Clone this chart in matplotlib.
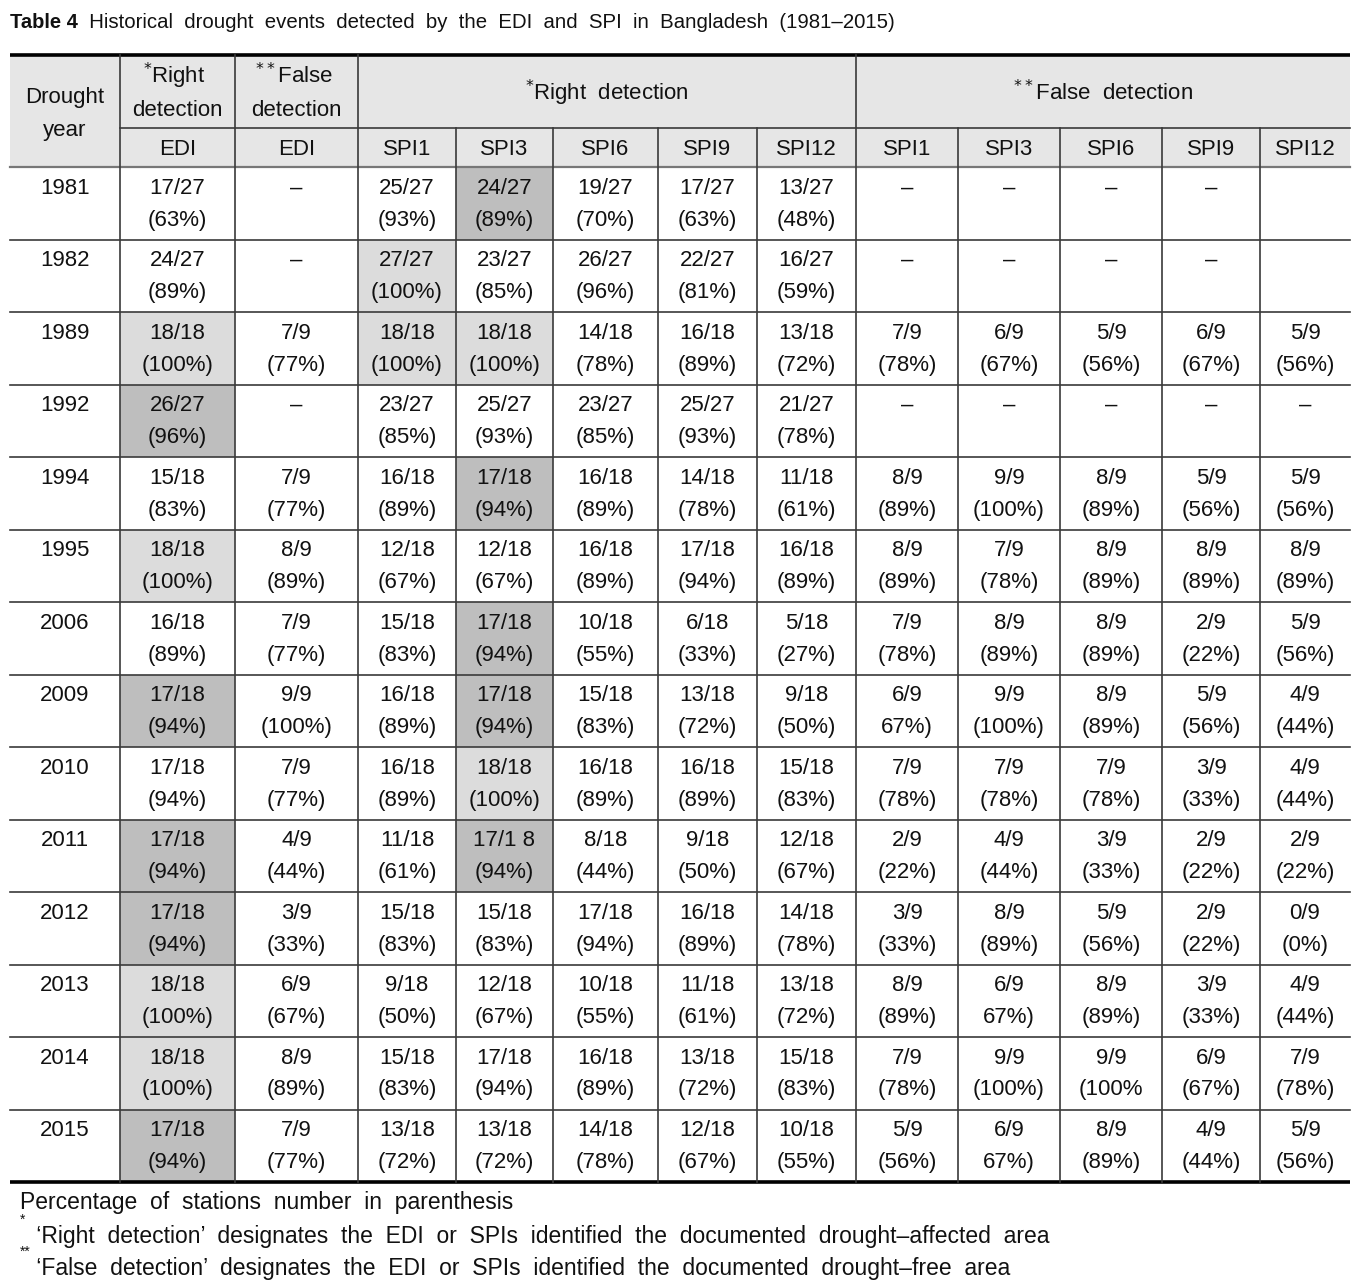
import matplotlib
matplotlib.use("Agg")
import matplotlib.pyplot as plt
from matplotlib.patches import Rectangle

plt.rcParams['font.family'] = ['Liberation Sans', 'DejaVu Sans']

# ---------------- data ----------------
title_bold = "Table 4"
title_rest = "  Historical  drought  events  detected  by  the  EDI  and  SPI  in  Bangladesh  (1981\u20132015)"

years = ["1981", "1982", "1989", "1992", "1994", "1995", "2006",
         "2009", "2010", "2011", "2012", "2013", "2014", "2015"]

sub_headers = ["EDI", "EDI", "SPI1", "SPI3", "SPI6", "SPI9", "SPI12",
               "SPI1", "SPI3", "SPI6", "SPI9", "SPI12"]

D = "\u2013"
edi_right = ["17/27\n(63%)", "24/27\n(89%)", "18/18\n(100%)", "26/27\n(96%)", "15/18\n(83%)",
             "18/18\n(100%)", "16/18\n(89%)", "17/18\n(94%)", "17/18\n(94%)", "17/18\n(94%)",
             "17/18\n(94%)", "18/18\n(100%)", "18/18\n(100%)", "17/18\n(94%)"]
edi_false = [D, D, "7/9\n(77%)", D, "7/9\n(77%)", "8/9\n(89%)", "7/9\n(77%)", "9/9\n(100%)",
             "7/9\n(77%)", "4/9\n(44%)", "3/9\n(33%)", "6/9\n(67%)", "8/9\n(89%)", "7/9\n(77%)"]
spi1_right = ["25/27\n(93%)", "27/27\n(100%)", "18/18\n(100%)", "23/27\n(85%)", "16/18\n(89%)",
              "12/18\n(67%)", "15/18\n(83%)", "16/18\n(89%)", "16/18\n(89%)", "11/18\n(61%)",
              "15/18\n(83%)", "9/18\n(50%)", "15/18\n(83%)", "13/18\n(72%)"]
spi3_right = ["24/27\n(89%)", "23/27\n(85%)", "18/18\n(100%)", "25/27\n(93%)", "17/18\n(94%)",
              "12/18\n(67%)", "17/18\n(94%)", "17/18\n(94%)", "18/18\n(100%)", "17/1 8\n(94%)",
              "15/18\n(83%)", "12/18\n(67%)", "17/18\n(94%)", "13/18\n(72%)"]
spi6_right = ["19/27\n(70%)", "26/27\n(96%)", "14/18\n(78%)", "23/27\n(85%)", "16/18\n(89%)",
              "16/18\n(89%)", "10/18\n(55%)", "15/18\n(83%)", "16/18\n(89%)", "8/18\n(44%)",
              "17/18\n(94%)", "10/18\n(55%)", "16/18\n(89%)", "14/18\n(78%)"]
spi9_right = ["17/27\n(63%)", "22/27\n(81%)", "16/18\n(89%)", "25/27\n(93%)", "14/18\n(78%)",
              "17/18\n(94%)", "6/18\n(33%)", "13/18\n(72%)", "16/18\n(89%)", "9/18\n(50%)",
              "16/18\n(89%)", "11/18\n(61%)", "13/18\n(72%)", "12/18\n(67%)"]
spi12_right = ["13/27\n(48%)", "16/27\n(59%)", "13/18\n(72%)", "21/27\n(78%)", "11/18\n(61%)",
               "16/18\n(89%)", "5/18\n(27%)", "9/18\n(50%)", "15/18\n(83%)", "12/18\n(67%)",
               "14/18\n(78%)", "13/18\n(72%)", "15/18\n(83%)", "10/18\n(55%)"]
spi1_false = [D, D, "7/9\n(78%)", D, "8/9\n(89%)", "8/9\n(89%)", "7/9\n(78%)", "6/9\n67%)",
              "7/9\n(78%)", "2/9\n(22%)", "3/9\n(33%)", "8/9\n(89%)", "7/9\n(78%)", "5/9\n(56%)"]
spi3_false = [D, D, "6/9\n(67%)", D, "9/9\n(100%)", "7/9\n(78%)", "8/9\n(89%)", "9/9\n(100%)",
              "7/9\n(78%)", "4/9\n(44%)", "8/9\n(89%)", "6/9\n67%)", "9/9\n(100%)", "6/9\n67%)"]
spi6_false = [D, D, "5/9\n(56%)", D, "8/9\n(89%)", "8/9\n(89%)", "8/9\n(89%)", "8/9\n(89%)",
              "7/9\n(78%)", "3/9\n(33%)", "5/9\n(56%)", "8/9\n(89%)", "9/9\n(100%", "8/9\n(89%)"]
spi9_false = [D, D, "6/9\n(67%)", D, "5/9\n(56%)", "8/9\n(89%)", "2/9\n(22%)", "5/9\n(56%)",
              "3/9\n(33%)", "2/9\n(22%)", "2/9\n(22%)", "3/9\n(33%)", "6/9\n(67%)", "4/9\n(44%)"]
spi12_false = ["", "", "5/9\n(56%)", D, "5/9\n(56%)", "8/9\n(89%)", "5/9\n(56%)", "4/9\n(44%)",
               "4/9\n(44%)", "2/9\n(22%)", "0/9\n(0%)", "4/9\n(44%)", "7/9\n(78%)", "5/9\n(56%)"]

columns = [edi_right, edi_false, spi1_right, spi3_right, spi6_right, spi9_right, spi12_right,
           spi1_false, spi3_false, spi6_false, spi9_false, spi12_false]
col_keys = ["EDI_R", "EDI_F", "SPI1_R", "SPI3_R", "SPI6_R", "SPI9_R", "SPI12_R",
            "SPI1_F", "SPI3_F", "SPI6_F", "SPI9_F", "SPI12_F"]

dark_cells = [("1981", "SPI3_R"), ("1992", "EDI_R"), ("1994", "SPI3_R"), ("2006", "SPI3_R"),
              ("2009", "EDI_R"), ("2009", "SPI3_R"), ("2011", "EDI_R"), ("2011", "SPI3_R"),
              ("2012", "EDI_R"), ("2015", "EDI_R")]
light_cells = [("1982", "SPI1_R"), ("1989", "EDI_R"), ("1989", "SPI1_R"), ("1989", "SPI3_R"),
               ("1995", "EDI_R"), ("2010", "SPI3_R"), ("2013", "EDI_R"), ("2014", "EDI_R")]

footnote1 = "Percentage  of  stations  number  in  parenthesis"
footnote2 = " \u2018Right  detection\u2019  designates  the  EDI  or  SPIs  identified  the  documented  drought\u2013affected  area"
footnote3 = " \u2018False  detection\u2019  designates  the  EDI  or  SPIs  identified  the  documented  drought\u2013free  area"

# ---------------- layout ----------------
W, H = 1370, 1288
fig = plt.figure(figsize=(W / 100, H / 100), dpi=100)
ax = fig.add_axes([0, 0, 1, 1])
ax.set_xlim(0, W)
ax.set_ylim(H, 0)
ax.axis("off")

xe = [10, 120, 235, 358, 456, 553, 658, 757, 856, 958, 1060, 1162, 1260, 1350]
y_top = 55
y_h1 = 128
y_h2 = 167
row_h = 72.5
y_bot = y_h2 + row_h * len(years)

FS = 16
FN_FS = 16.5
HEAD_BG = "#e6e6e6"
DARK = "#bebebe"
LIGHT = "#dcdcdc"
LINE = "#3a3a3a"
TXT = "#111111"

# header background
ax.add_patch(Rectangle((xe[0], y_top), xe[-1] - xe[0], y_h2 - y_top, facecolor=HEAD_BG, edgecolor="none"))

# shaded cells
for cells, colr in ((dark_cells, DARK), (light_cells, LIGHT)):
    for yr, key in cells:
        r = years.index(yr)
        c = col_keys.index(key) + 1
        ax.add_patch(Rectangle((xe[c], y_h2 + r * row_h), xe[c + 1] - xe[c], row_h,
                               facecolor=colr, edgecolor="none"))

# lines
ax.plot([xe[0], xe[-1]], [y_top, y_top], color="black", lw=2.6, solid_capstyle="butt")
ax.plot([xe[0], xe[-1]], [y_bot, y_bot], color="black", lw=2.6, solid_capstyle="butt")
ax.plot([xe[1], xe[-1]], [y_h1, y_h1], color=LINE, lw=1.2)
ax.plot([xe[0], xe[-1]], [y_h2, y_h2], color="#777777", lw=1.6)
for r in range(1, len(years)):
    y = y_h2 + r * row_h
    ax.plot([xe[0], xe[-1]], [y, y], color=LINE, lw=1.2)
for i, x in enumerate(xe[1:-1], start=1):
    y0 = y_top if i in (1, 2, 3, 8) else y_h1
    ax.plot([x, x], [y0, y_bot], color=LINE, lw=1.2)


def star_text(xc, yc, star, word, fs=FS):
    ax.text(xc, yc, r"$^{" + star + "}$" + word, ha="center", va="center", fontsize=fs, color=TXT)


# header text
ax.text((xe[0] + xe[1]) / 2, 97, "Drought", ha="center", va="center", fontsize=FS, color=TXT)
ax.text((xe[0] + xe[1]) / 2, 130, "year", ha="center", va="center", fontsize=FS, color=TXT)
star_text((xe[1] + xe[2]) / 2 - 3, 76, "*", "Right")
ax.text((xe[1] + xe[2]) / 2, 110, "detection", ha="center", va="center", fontsize=FS, color=TXT)
star_text((xe[2] + xe[3]) / 2 - 3, 76, "**", "False")
ax.text((xe[2] + xe[3]) / 2, 110, "detection", ha="center", va="center", fontsize=FS, color=TXT)
star_text((xe[3] + xe[8]) / 2, 93, "*", "Right  detection")
star_text((xe[8] + xe[13]) / 2, 93, "**", "False  detection")
for j, lab in enumerate(sub_headers):
    c = j + 1
    ax.text((xe[c] + xe[c + 1]) / 2, 149, lab, ha="center", va="center", fontsize=FS, color=TXT)

# body text
for r, yr in enumerate(years):
    top = y_h2 + r * row_h
    ax.text((xe[0] + xe[1]) / 2, top + 21, yr, ha="center", va="center", fontsize=FS, color=TXT)
    for j, col in enumerate(columns):
        c = j + 1
        xc = (xe[c] + xe[c + 1]) / 2
        for k, line in enumerate(col[r].split("\n")):
            ax.text(xc, top + 21 + 32 * k, line, ha="center", va="center", fontsize=FS, color=TXT)

# title
fig.canvas.draw()
renderer = fig.canvas.get_renderer()
t = ax.text(10, 22, title_bold, ha="left", va="center", fontsize=14.5, fontweight="bold", color=TXT)
bb = t.get_window_extent(renderer=renderer)
ax.text(10 + bb.width, 22, title_rest, ha="left", va="center", fontsize=14.7, color=TXT)

# footnotes
ax.text(20, 1203, footnote1, ha="left", va="center", fontsize=FN_FS, color=TXT)
ax.text(20, 1220, "*", ha="left", va="center", fontsize=10, color=TXT)
ax.text(30, 1236, footnote2, ha="left", va="center", fontsize=FN_FS, color=TXT)
ax.text(20, 1252, "**", ha="left", va="center", fontsize=10, color=TXT)
ax.text(30, 1268, footnote3, ha="left", va="center", fontsize=FN_FS, color=TXT)

fig.savefig("out.png", dpi=100)
